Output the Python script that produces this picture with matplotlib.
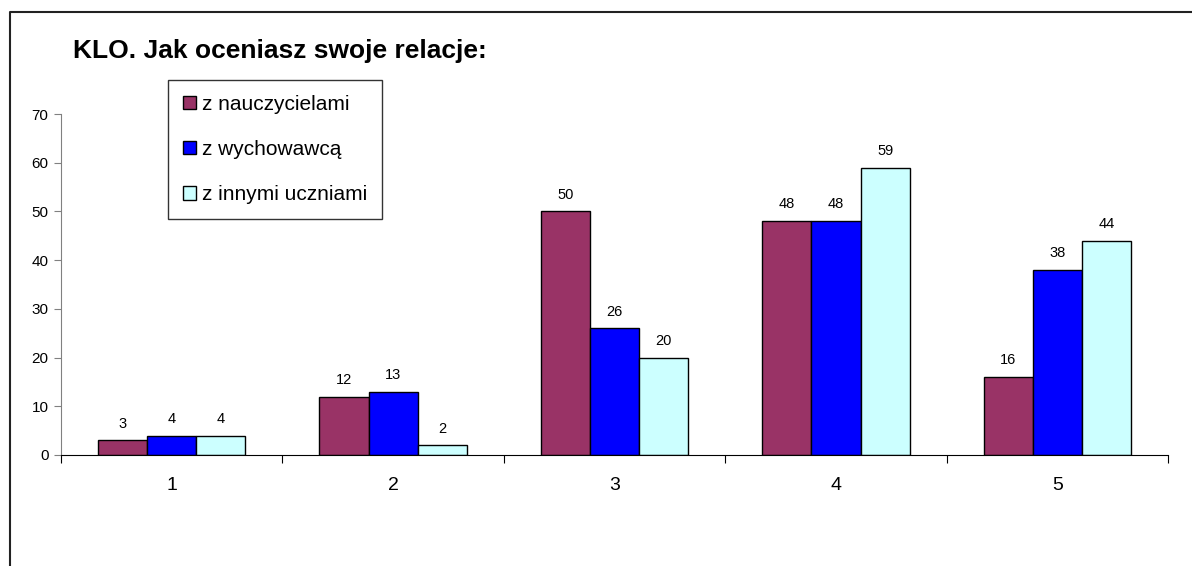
import matplotlib
matplotlib.use("Agg")
import matplotlib.pyplot as plt
from matplotlib.lines import Line2D
import numpy as np

plt.rcParams['font.family'] = ['Liberation Sans', 'DejaVu Sans']

categories = ['1', '2', '3', '4', '5']
series_names = ['z nauczycielami', 'z wychowawcą', 'z innymi uczniami']
nauczyciele = [3, 12, 50, 48, 16]
wychowawca = [4, 13, 26, 48, 38]
uczniowie = [4, 2, 20, 59, 44]
colors = ['#993366', '#0000FF', '#CCFFFF']
title = 'KLO. Jak oceniasz swoje relacje:'

W, H = 1192, 566
fig = plt.figure(figsize=(W / 100, H / 100), dpi=100)
# outer chart-area border (left and top visible only)
fig.lines.append(Line2D([9.5 / W, 9.5 / W, 1.01], [-0.01, 1 - 12 / H, 1 - 12 / H],
                        transform=fig.transFigure, color='#222222', linewidth=1.5))

ax = fig.add_axes([61 / W, 1 - 455 / H, (1168 - 61) / W, (455 - 114) / H])
x = np.arange(len(categories))
bw = 1 / 4.5
data = [nauczyciele, wychowawca, uczniowie]
for i, (vals, c, name) in enumerate(zip(data, colors, series_names)):
    bars = ax.bar(x + (i - 1) * bw, vals, bw, color=c, edgecolor='black', linewidth=1, label=name)
    for b, v in zip(bars, vals):
        ax.annotate(str(v), (b.get_x() + b.get_width() / 2, v), xytext=(0, 7), textcoords='offset points',
                    ha='center', va='bottom', fontsize=10.5)

ax.set_xlim(-0.5, len(categories) - 0.5)
ax.set_ylim(0, 70)
ax.set_yticks(range(0, 71, 10))
ax.set_xticks(np.arange(-0.5, len(categories), 1))
ax.set_xticklabels([])
ax.set_xticks(x, minor=True)
ax.set_xticklabels(categories, minor=True, fontsize=14)
ax.tick_params(axis='x', which='minor', length=0, pad=16)
ax.tick_params(axis='x', which='major', length=6, direction='out', color='black')
ax.tick_params(axis='y', length=5, direction='out', color='#808080', labelsize=11, pad=4)
for s in ['top', 'right']:
    ax.spines[s].set_visible(False)
ax.spines['left'].set_color('#808080')
ax.spines['bottom'].set_color('black')

fig.text(73 / W, 1 - 51 / H, title, fontsize=19, fontweight='bold', ha='left', va='center')

leg = fig.legend(loc='upper left', bbox_to_anchor=(168 / W, 1 - 80 / H), fontsize=15,
                 frameon=True, fancybox=False, edgecolor='black', handlelength=0.62, handleheight=0.62,
                 handletextpad=0.3, labelspacing=1.27, borderpad=0.7, borderaxespad=0)
leg.get_frame().set_linewidth(1)

fig.savefig('out.png', dpi=100)
